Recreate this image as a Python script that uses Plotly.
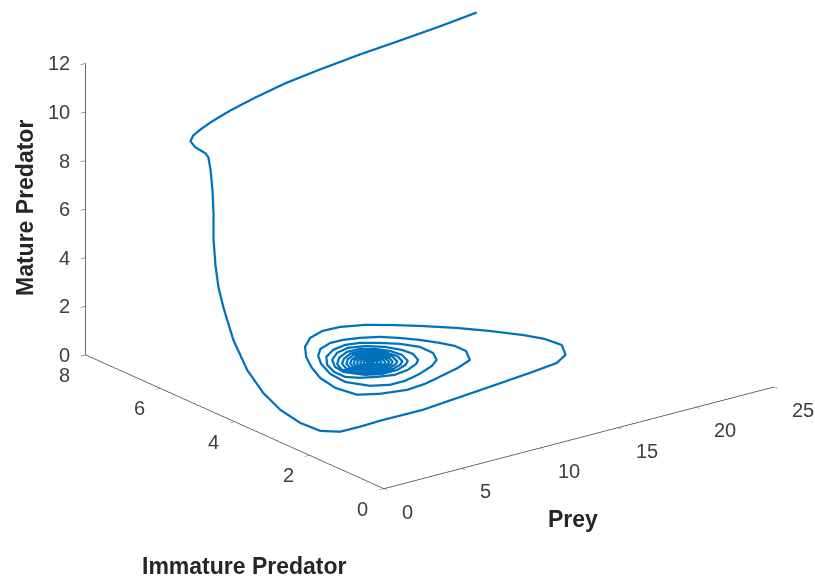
import plotly.graph_objects as go

# Trajectory of the stage-structured predator-prey system, in three stretches:
# the initial crash of the prey, the decline of the mature predators,
# and the damped oscillation around the coexistence state.
crash_prey = [20.45, 17.92, 15.25, 12.59, 9.85, 7.39, 5.13, 3.17, 1.67, 0.68, 0.08,
              0.03, 0.03, 0.03, 0.03]
crash_immature = [6.07, 6.00, 5.95, 5.91, 5.83, 5.74, 5.59, 5.44, 5.30, 5.20, 5.14,
                  5.20, 5.07, 4.80, 4.72]
crash_mature = [12.00, 11.90, 11.80, 11.70, 11.60, 11.50, 11.40, 11.30, 11.20, 11.10, 11.00,
                10.72, 10.56, 10.50, 10.39]

decline_prey = [0.03, 0.03, 0.03, 0.03, 0.03, 0.03, 0.03, 0.03, 0.03, 0.03, 0.03, 0.03, 0.34]
decline_immature = [4.66, 4.61, 4.58, 4.58, 4.53, 4.45, 4.32, 4.05, 3.68, 3.25, 2.79, 2.26, 1.85]
decline_mature = [9.90, 9.11, 8.10, 7.08, 6.08, 5.24, 4.50, 3.33, 2.35, 1.70, 1.32, 1.15, 1.05]

spiral_prey = [
    1.17, 2.43, 3.78, 6.51, 8.79, 11.29, 14.17, 16.16, 17.25, 17.99, 17.84, 17.32, 16.34,
    15.28, 13.97, 12.84, 11.83, 10.64, 9.56, 8.44, 7.42, 6.56, 5.86, 5.23, 4.94,
    5.20, 6.21, 7.67, 8.93, 10.17, 11.71, 12.92, 13.57, 13.57, 13.24, 12.70, 12.07, 11.36,
    10.46, 9.59, 8.80, 7.85, 7.14, 6.54, 6.00, 5.88,
    6.53, 7.43, 8.40, 9.63, 10.84, 11.58, 12.06, 12.07, 11.53, 10.82, 10.01, 9.22, 8.29,
    7.37, 6.69, 6.34, 6.33,
    6.85, 7.67, 8.53, 9.51, 10.38, 10.82, 11.16, 11.07, 10.66, 9.94, 9.07, 8.18, 7.34,
    6.83, 6.71,
    6.90, 7.32, 8.10, 9.07, 9.88, 10.32, 10.62, 10.50, 10.07, 9.47, 8.67, 7.81, 7.18, 6.84,
    7.15, 7.52, 8.18, 9.00, 9.69, 10.07, 10.32, 10.21, 9.85, 9.34, 8.66, 7.93, 7.40, 7.11,
    7.38, 7.68, 8.24, 8.94, 9.52, 9.84, 10.06, 9.97, 9.66, 9.23, 8.65, 8.03, 7.58, 7.34,
    7.58, 7.84, 8.30, 8.88, 9.37, 9.64, 9.82, 9.74, 9.49, 9.12, 8.65, 8.13, 7.75, 7.55,
    7.75, 7.96, 8.35, 8.84, 9.24, 9.47, 9.62, 9.55, 9.34, 9.04, 8.64, 8.21, 7.90, 7.73,
    7.92, 8.09, 8.40, 8.79, 9.12, 9.29, 9.41, 9.36, 9.19, 8.95, 8.63, 8.29, 8.04, 7.90,
    8.09, 8.22, 8.46, 8.75, 8.99, 9.12, 9.21, 9.17, 9.05, 8.87, 8.63, 8.37, 8.18, 8.08,
    8.27, 8.35, 8.51, 8.70, 8.86, 8.95, 9.01, 8.99, 8.90, 8.78, 8.62, 8.45, 8.32, 8.25,
    8.44, 8.48, 8.56, 8.65, 8.73, 8.78, 8.81, 8.80, 8.75, 8.69, 8.61, 8.53, 8.47,
    8.60]
spiral_immature = [
    1.67, 1.66, 1.69, 1.68, 1.78, 1.89, 2.02, 2.13, 2.35, 2.76, 3.16, 3.52, 4.00,
    4.44, 4.88, 5.21, 5.46, 5.63, 5.65, 5.51, 5.22, 4.83, 4.40, 3.90, 3.38,
    2.90, 2.71, 2.59, 2.64, 2.76, 2.92, 3.10, 3.48, 3.78, 4.04, 4.35, 4.62, 4.86,
    5.02, 5.11, 5.12, 4.99, 4.75, 4.42, 3.95, 3.50,
    3.11, 2.95, 2.95, 3.07, 3.25, 3.43, 3.73, 4.09, 4.40, 4.63, 4.83, 4.90, 4.83,
    4.63, 4.32, 3.99, 3.69,
    3.51, 3.37, 3.28, 3.34, 3.48, 3.61, 3.89, 4.15, 4.43, 4.66, 4.76, 4.68, 4.46,
    4.17, 3.90,
    3.79, 3.57, 3.44, 3.44, 3.55, 3.68, 3.96, 4.23, 4.45, 4.60, 4.62, 4.47, 4.26, 3.99,
    3.82, 3.63, 3.52, 3.52, 3.61, 3.72, 3.96, 4.19, 4.38, 4.51, 4.52, 4.39, 4.22, 3.98,
    3.84, 3.68, 3.59, 3.59, 3.67, 3.76, 3.97, 4.16, 4.32, 4.43, 4.44, 4.33, 4.18, 3.98,
    3.87, 3.73, 3.65, 3.66, 3.72, 3.80, 3.97, 4.13, 4.26, 4.35, 4.36, 4.27, 4.15, 3.98,
    3.88, 3.77, 3.71, 3.71, 3.76, 3.82, 3.97, 4.10, 4.21, 4.29, 4.30, 4.22, 4.12, 3.98,
    3.90, 3.81, 3.76, 3.76, 3.80, 3.85, 3.97, 4.08, 4.17, 4.22, 4.23, 4.17, 4.09, 3.98,
    3.92, 3.85, 3.81, 3.82, 3.85, 3.88, 3.97, 4.05, 4.12, 4.16, 4.17, 4.12, 4.06, 3.98,
    3.94, 3.89, 3.87, 3.87, 3.89, 3.91, 3.97, 4.03, 4.07, 4.10, 4.10, 4.07, 4.03, 3.98,
    3.96, 3.93, 3.92, 3.92, 3.93, 3.94, 3.97, 4.00, 4.02, 4.04, 4.04, 4.02, 4.00,
    3.97]
# mature predators stay close to 1 throughout the oscillation
spiral_mature = [1.0] * len(spiral_prey)

prey = crash_prey + decline_prey + spiral_prey
immature = crash_immature + decline_immature + spiral_immature
mature = crash_mature + decline_mature + spiral_mature

x_ticks = [0, 5, 10, 15, 20, 25]
y_ticks = [0, 2, 4, 6, 8]
z_ticks = [0, 2, 4, 6, 8, 10, 12]
x_range = [0, 25]
y_range = [0, 8]
z_range = [0, 12]

line_blue = "#0072BD"
axis_grey = "#3c3c3c"
font_family = "Liberation Sans, Arial, sans-serif"
tick_font = dict(family=font_family, size=20, color="#404040")
label_font = dict(family=font_family, size=23, color="#262626")

fig = go.Figure(go.Scatter3d(
    x=prey, y=immature, z=mature,
    mode="lines",
    line=dict(color=line_blue, width=4.5),
    hoverinfo="skip",
))


def axis(rng, ticks):
    return dict(
        range=rng, autorange=False, tickvals=ticks,
        showticklabels=False,
        showgrid=False, zeroline=False, showbackground=False, showspikes=False,
        showline=True, linecolor=axis_grey, linewidth=1.5,
        ticks="outside", ticklen=6, tickcolor=axis_grey, tickwidth=1,
        title=dict(text=""),
    )


# Tick labels kept flat on screen, anchored at the tick positions in data space
tick_labels = []
for t in x_ticks:
    tick_labels.append(dict(x=t, y=y_range[0], z=z_range[0], text=str(t),
                            xanchor="left", yanchor="middle", xshift=16, yshift=-23))
for t in y_ticks:
    tick_labels.append(dict(x=x_range[0], y=t, z=z_range[0], text=str(t),
                            xanchor="center", yanchor="middle", xshift=-21, yshift=-20))
for t in z_ticks:
    tick_labels.append(dict(x=x_range[0], y=y_range[1], z=t, text=str(t),
                            xanchor="right", yanchor="middle", xshift=-14, yshift=0))
for a in tick_labels:
    a.update(showarrow=False, font=tick_font)

# Orthographic view: box proportions set the zoom, camera centre sets the offset
zoom = 1.692
fig.update_layout(
    width=815, height=580,
    margin=dict(l=0, r=0, t=0, b=0),
    paper_bgcolor="white",
    showlegend=False,
    scene=dict(
        domain=dict(x=[0, 1], y=[0, 1]),
        xaxis=axis(x_range, x_ticks),
        yaxis=axis(y_range, y_ticks),
        zaxis=axis(z_range, z_ticks),
        aspectmode="manual",
        aspectratio=dict(x=1.0 * zoom, y=1.003 * zoom, z=0.632 * zoom),
        camera=dict(
            eye=dict(x=-1.817, y=-2.2557, z=0.816),
            center=dict(x=-0.1076, y=-0.0141, z=-0.2100),
            up=dict(x=0, y=0, z=1),
            projection=dict(type="orthographic"),
        ),
        annotations=tick_labels,
    ),
    annotations=[
        dict(text="<b>Prey</b>", x=573 / 815, y=1 - 519 / 580, xref="paper", yref="paper",
             showarrow=False, font=label_font, xanchor="center", yanchor="middle"),
        dict(text="<b>Immature Predator</b>", x=244 / 815, y=1 - 566 / 580, xref="paper",
             yref="paper", showarrow=False, font=label_font, xanchor="center", yanchor="middle"),
        dict(text="<b>Mature Predator</b>", x=25 / 815, y=1 - 208 / 580, xref="paper",
             yref="paper", showarrow=False, font=label_font, textangle=-90,
             xanchor="center", yanchor="middle"),
    ],
)

fig.write_html("out.html")
